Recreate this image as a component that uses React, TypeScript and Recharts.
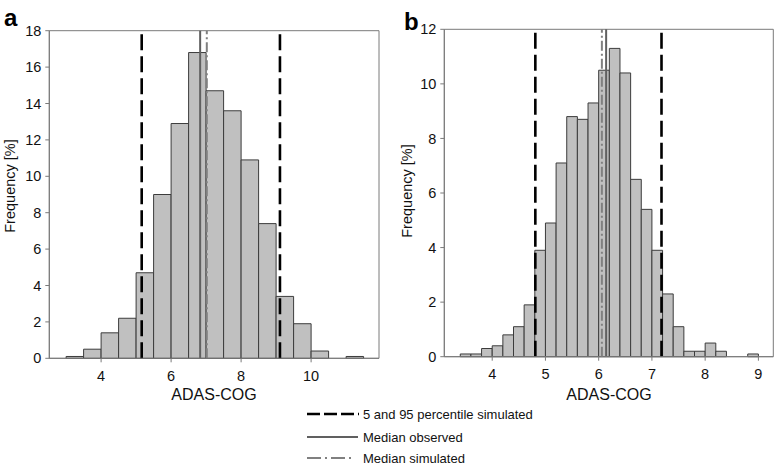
import React from 'react';
import { ComposedChart, XAxis, YAxis, ReferenceArea, ReferenceLine } from 'recharts';

// Panel a: ADAS-COG histogram (bin width 0.5)
const binStartA = [3, 3.5, 4, 4.5, 5, 5.5, 6, 6.5, 7, 7.5, 8, 8.5, 9, 9.5, 10, 10.5, 11];
const freqA = [0.1, 0.5, 1.4, 2.2, 4.7, 9.0, 12.9, 16.8, 14.7, 13.6, 10.9, 7.4, 3.4, 1.9, 0.4, 0, 0.1];
const binWidthA = 0.5;
const percentilesA = [5.16, 9.11];
const medianObservedA = 6.83;
const medianSimulatedA = 7.02;
const xTicksA = [4, 6, 8, 10];
const yTicksA = [0, 2, 4, 6, 8, 10, 12, 14, 16, 18];

// Panel b: ADAS-COG histogram (bin width 0.2)
const binStartB = [3.4, 3.6, 3.8, 4.0, 4.2, 4.4, 4.6, 4.8, 5.0, 5.2, 5.4, 5.6, 5.8, 6.0, 6.2, 6.4, 6.6, 6.8, 7.0, 7.2, 7.4, 7.6, 7.8, 8.0, 8.2, 8.4, 8.6, 8.8];
const freqB = [0.1, 0.1, 0.3, 0.4, 0.8, 1.1, 1.9, 3.9, 4.9, 7.1, 8.8, 8.7, 9.3, 10.5, 11.3, 10.4, 6.5, 5.4, 3.9, 2.3, 1.1, 0.2, 0.2, 0.5, 0.2, 0, 0, 0.1];
const binWidthB = 0.2;
const percentilesB = [4.81, 7.18];
const medianObservedB = 6.14;
const medianSimulatedB = 6.06;
const xTicksB = [4, 5, 6, 7, 8, 9];
const yTicksB = [0, 2, 4, 6, 8, 10, 12];

const legendLabels = ['5 and 95 percentile simulated', 'Median observed', 'Median simulated'];

const FONT = '"Liberation Sans", Arial, Helvetica, sans-serif';
const AXIS_GREY = '#7a7a7a';
const BAR_FILL = '#c0c0c0';
const BAR_STROKE = '#3c3c3c';
const TEXT = '#111';

type PanelProps = {
  left: number;
  width: number;
  yAxisWidth: number;
  top: number;
  bottom: number;
  right: number;
  xDomain: [number, number];
  yDomain: [number, number];
  xTicks: number[];
  yTicks: number[];
  binStart: number[];
  freq: number[];
  binWidth: number;
  percentiles: number[];
  medianObserved: number;
  medianSimulated: number;
};

function Panel(p: PanelProps) {
  const rows = p.binStart.map((s, i) => ({ x0: s, x1: s + p.binWidth, f: p.freq[i] }));
  return (
    <div style={{ position: 'absolute', left: p.left, top: 0 }}>
      <ComposedChart
        width={p.width}
        height={465}
        data={rows}
        margin={{ top: p.top, right: p.right, bottom: p.bottom, left: 0 }}
      >
        <XAxis
          type="number"
          dataKey="x0"
          domain={p.xDomain}
          allowDataOverflow
          ticks={p.xTicks}
          interval={0}
          height={30}
          tickSize={4}
          tickMargin={8}
          stroke={AXIS_GREY}
          tick={{ fill: TEXT, fontSize: 14.5, fontFamily: FONT }}
        />
        <YAxis
          type="number"
          domain={p.yDomain}
          allowDataOverflow
          ticks={p.yTicks}
          interval={0}
          width={p.yAxisWidth}
          tickSize={4}
          tickMargin={4}
          stroke={AXIS_GREY}
          tick={{ fill: TEXT, fontSize: 14.5, fontFamily: FONT }}
        />
        <ReferenceArea
          x1={p.xDomain[0]}
          x2={p.xDomain[1]}
          y1={p.yDomain[0]}
          y2={p.yDomain[1]}
          fill="none"
          stroke={AXIS_GREY}
          strokeWidth={1}
          ifOverflow="visible"
        />
        {rows.map((r, i) =>
          r.f > 0 ? (
            <ReferenceArea
              key={'bar' + i}
              x1={r.x0}
              x2={r.x1}
              y1={0}
              y2={r.f}
              fill={BAR_FILL}
              fillOpacity={1}
              stroke={BAR_STROKE}
              strokeWidth={1}
              ifOverflow="visible"
            />
          ) : null
        )}
        {p.percentiles.map((v, i) => (
          <ReferenceLine
            key={'pct' + i}
            x={v}
            stroke="#000"
            strokeWidth={2.6}
            strokeDasharray="16 6"
            ifOverflow="visible"
          />
        ))}
        <ReferenceLine x={p.medianObserved} stroke="#606060" strokeWidth={2} ifOverflow="visible" />
        <ReferenceLine
          x={p.medianSimulated}
          stroke="#808080"
          strokeWidth={2}
          strokeDasharray="10 3 2 3"
          ifOverflow="visible"
        />
      </ComposedChart>
    </div>
  );
}

export default function App() {
  return (
    <div
      style={{
        position: 'absolute',
        left: 0,
        top: 0,
        width: 777,
        height: 465,
        background: '#fff',
        fontFamily: FONT,
        overflow: 'hidden',
      }}
    >
      <Panel
        left={0}
        width={390}
        yAxisWidth={49.3}
        top={30.7}
        bottom={465 - 358.3 - 30}
        right={390 - 379}
        xDomain={[2.52, 11.94]}
        yDomain={[0, 18]}
        xTicks={xTicksA}
        yTicks={yTicksA}
        binStart={binStartA}
        freq={freqA}
        binWidth={binWidthA}
        percentiles={percentilesA}
        medianObserved={medianObservedA}
        medianSimulated={medianSimulatedA}
      />
      <Panel
        left={390}
        width={387}
        yAxisWidth={54.3}
        top={29.3}
        bottom={465 - 356.7 - 30}
        right={777 - 773.3}
        xDomain={[3.1, 9.28]}
        yDomain={[0, 12]}
        xTicks={xTicksB}
        yTicks={yTicksB}
        binStart={binStartB}
        freq={freqB}
        binWidth={binWidthB}
        percentiles={percentilesB}
        medianObserved={medianObservedB}
        medianSimulated={medianSimulatedB}
      />
      <svg
        width={777}
        height={465}
        style={{ position: 'absolute', left: 0, top: 0, pointerEvents: 'none' }}
      >
        <text x={4} y={26} fontSize={24} fontWeight="bold" fontFamily={FONT} fill="#000">a</text>
        <text x={404} y={30} fontSize={24} fontWeight="bold" fontFamily={FONT} fill="#000">b</text>
        <text
          transform="translate(15,186) rotate(-90)"
          textAnchor="middle"
          fontSize={14.5}
          fontFamily={FONT}
          fill={TEXT}
        >
          Frequency [%]
        </text>
        <text
          transform="translate(412,191) rotate(-90)"
          textAnchor="middle"
          fontSize={14.5}
          fontFamily={FONT}
          fill={TEXT}
        >
          Frequency [%]
        </text>
        <text x={214} y={400} textAnchor="middle" fontSize={16} fontFamily={FONT} fill={TEXT}>ADAS-COG</text>
        <text x={609} y={400} textAnchor="middle" fontSize={16} fontFamily={FONT} fill={TEXT}>ADAS-COG</text>
        {/* legend */}
        <line x1={307} x2={359} y1={414} y2={414} stroke="#000" strokeWidth={2.6} strokeDasharray="13 4" />
        <line x1={307} x2={358} y1={437} y2={437} stroke="#606060" strokeWidth={2} />
        <line x1={307} x2={351} y1={458} y2={458} stroke="#808080" strokeWidth={2} strokeDasharray="14 4 2 4" />
        <text x={363} y={419} fontSize={13} fontFamily={FONT} fill={TEXT}>{legendLabels[0]}</text>
        <text x={363} y={442} fontSize={13} fontFamily={FONT} fill={TEXT}>{legendLabels[1]}</text>
        <text x={363} y={463} fontSize={13} fontFamily={FONT} fill={TEXT}>{legendLabels[2]}</text>
      </svg>
    </div>
  );
}
